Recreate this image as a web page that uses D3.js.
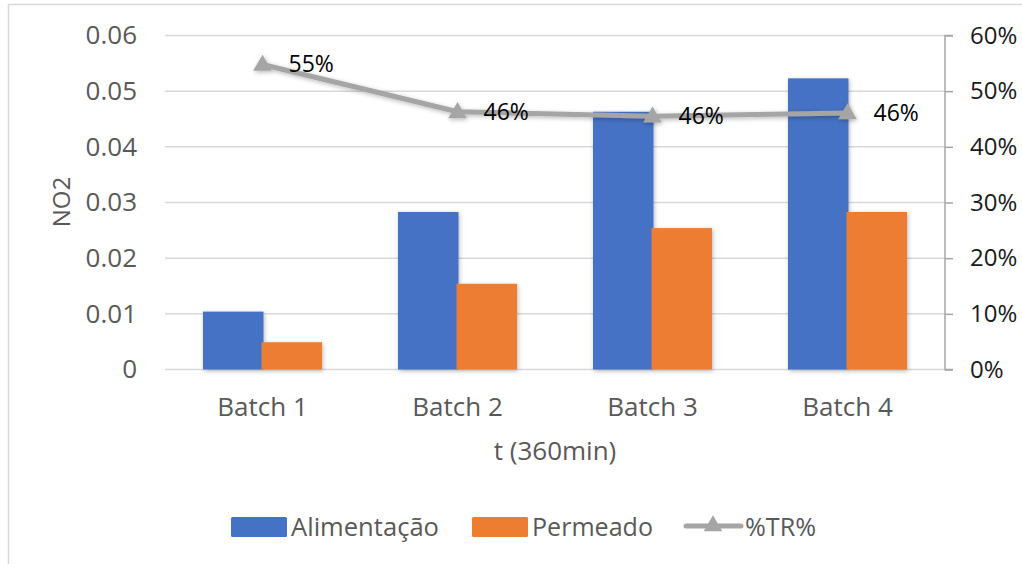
<!DOCTYPE html>
<html>
<head>
<meta charset="utf-8">
<script src="https://cdn.jsdelivr.net/npm/d3@7"></script>
<style>
  html, body { margin: 0; padding: 0; background: #fff; }
  svg { display: block; font-family: "Open Sans", "Noto Sans", sans-serif; }
</style>
</head>
<body>
<svg id="chart" width="1022" height="564"></svg>
<script>
// Categories and series
const categories = ["Batch 1", "Batch 2", "Batch 3", "Batch 4"];
const alimentacao = [0.0104, 0.0283, 0.0463, 0.0523];
const permeado = [0.0049, 0.0154, 0.0254, 0.0283];
const trPercent = [0.548, 0.463, 0.455, 0.461];
const trLabels = ["55%", "46%", "46%", "46%"];
const leftTicks = [0, 0.01, 0.02, 0.03, 0.04, 0.05, 0.06];
const rightTicks = [0, 0.1, 0.2, 0.3, 0.4, 0.5, 0.6];
const seriesNames = ["Alimentação", "Permeado", "%TR%"];
const colors = { "Alimentação": "#4472C4", "Permeado": "#ED7D31", "%TR%": "#A5A5A5" };

const svg = d3.select("#chart");

// Drop shadow used on bars and the line
const defs = svg.append("defs");
const f = defs.append("filter").attr("id", "shadow")
  .attr("x", "-20%").attr("y", "-20%").attr("width", "140%").attr("height", "140%");
f.append("feDropShadow").attr("dx", 1).attr("dy", 1.5).attr("stdDeviation", 2)
  .attr("flood-color", "#000").attr("flood-opacity", 0.28);

// Outer chart border
svg.append("rect").attr("x", 8.5).attr("y", 4.5).attr("width", 1030).attr("height", 580)
  .attr("fill", "none").attr("stroke", "#D9D9D9").attr("stroke-width", 1.5);

const plot = { left: 165, right: 945, top: 35.5, bottom: 369.5 };

const x0 = d3.scaleBand().domain(categories).range([plot.left, plot.right]).padding(0);
const x1 = d3.scaleBand().domain(["Alimentação", "Permeado"]).range([39, 156]);
const yL = d3.scaleLinear().domain([0, 0.06]).range([plot.bottom, plot.top]);
const yR = d3.scaleLinear().domain([0, 0.6]).range([plot.bottom, plot.top]);

// Horizontal gridlines
svg.append("g").selectAll("line").data(leftTicks).join("line")
  .attr("x1", plot.left).attr("x2", plot.right)
  .attr("y1", d => yL(d)).attr("y2", d => yL(d))
  .attr("stroke", "#D9D9D9").attr("stroke-width", 1.5);

// Left axis labels
const leftAxis = d3.axisLeft(yL).tickValues(leftTicks)
  .tickFormat(d => d === 0 ? "0" : d3.format(".2f")(d)).tickSize(0).tickPadding(28);
const gL = svg.append("g").attr("transform", `translate(${plot.left},0)`).call(leftAxis);
gL.select(".domain").remove();
gL.selectAll("text").attr("fill", "#595959").attr("font-size", 26)
  .attr("font-family", "'Open Sans', sans-serif");

// Right axis
const rightAxis = d3.axisRight(yR).tickValues(rightTicks)
  .tickFormat(d3.format(".0%")).tickSize(8).tickPadding(17);
const gR = svg.append("g").attr("transform", `translate(${plot.right},0)`).call(rightAxis);
gR.select(".domain").attr("stroke", "#A6A6A6").attr("stroke-width", 1.5)
  .attr("d", `M8,${plot.top}H0V${plot.bottom}H8`);
gR.selectAll(".tick line").attr("stroke", "#A6A6A6").attr("stroke-width", 1.5);
gR.selectAll("text").attr("fill", "#1a1a1a").attr("font-size", 24)
  .attr("font-family", "'Open Sans', sans-serif");

// Bars
const barData = categories.flatMap((c, i) => [
  { cat: c, key: "Alimentação", value: alimentacao[i] },
  { cat: c, key: "Permeado", value: permeado[i] }
]);
svg.append("g").attr("filter", "url(#shadow)")
  .selectAll("rect").data(barData).join("rect")
  .attr("x", d => x0(d.cat) + x1(d.key) - 1)
  .attr("width", x1.bandwidth() + 2)
  .attr("y", d => yL(d.value))
  .attr("height", d => yL(0) - yL(d.value))
  .attr("fill", d => colors[d.key]);

// %TR% line with triangle markers
const pts = categories.map((c, i) => ({ x: x0(c) + x0.bandwidth() / 2, y: yR(trPercent[i]), label: trLabels[i] }));
const gLine = svg.append("g").attr("filter", "url(#shadow)");
gLine.append("path").datum(pts)
  .attr("d", d3.line().x(d => d.x).y(d => d.y))
  .attr("fill", "none").attr("stroke", colors["%TR%"]).attr("stroke-width", 5)
  .attr("stroke-linejoin", "round");
const tri = d3.symbol().type(d3.symbolTriangle).size(150);
gLine.selectAll("path.m").data(pts).join("path").attr("class", "m")
  .attr("transform", d => `translate(${d.x},${d.y + 1})`)
  .attr("d", tri).attr("fill", colors["%TR%"]);

// Data labels
svg.append("g").selectAll("text").data(pts).join("text")
  .attr("x", d => d.x + 26).attr("y", d => d.y + 8)
  .attr("font-size", 23).attr("fill", "#000")
  .text(d => d.label);

// Category labels
svg.append("g").selectAll("text").data(categories).join("text")
  .attr("x", d => x0(d) + x0.bandwidth() / 2).attr("y", 416)
  .attr("text-anchor", "middle").attr("font-size", 26).attr("fill", "#595959")
  .text(d => d);

// Axis titles
svg.append("text").attr("x", (plot.left + plot.right) / 2).attr("y", 460)
  .attr("text-anchor", "middle").attr("font-size", 26).attr("fill", "#595959")
  .text("t (360min)");
svg.append("text").attr("transform", "translate(70,202) rotate(-90)")
  .attr("text-anchor", "middle").attr("font-size", 24).attr("fill", "#595959")
  .text("NO2");

// Legend
const legend = svg.append("g");
const lg = [
  { name: "Alimentação", sx: 231, tx: 291, w: 148 },
  { name: "Permeado", sx: 472, tx: 532, w: 121 },
  { name: "%TR%", sx: 686, tx: 745, w: 71 }
];
lg.forEach(d => {
  if (d.name === "%TR%") {
    legend.append("line").attr("x1", d.sx).attr("x2", d.sx + 55).attr("y1", 526).attr("y2", 526)
      .attr("stroke", colors[d.name]).attr("stroke-width", 5).attr("stroke-linecap", "round");
    legend.append("path").attr("transform", `translate(${d.sx + 27},526)`)
      .attr("d", tri).attr("fill", colors[d.name]);
  } else {
    legend.append("rect").attr("x", d.sx).attr("y", 517).attr("width", 56).attr("height", 20)
      .attr("rx", 1.5).attr("fill", colors[d.name]);
  }
  legend.append("text").attr("x", d.tx).attr("y", 536).attr("font-size", 26)
    .attr("textLength", d.w).attr("lengthAdjust", "spacingAndGlyphs")
    .attr("fill", "#595959").text(d.name);
});
</script>
</body>
</html>
